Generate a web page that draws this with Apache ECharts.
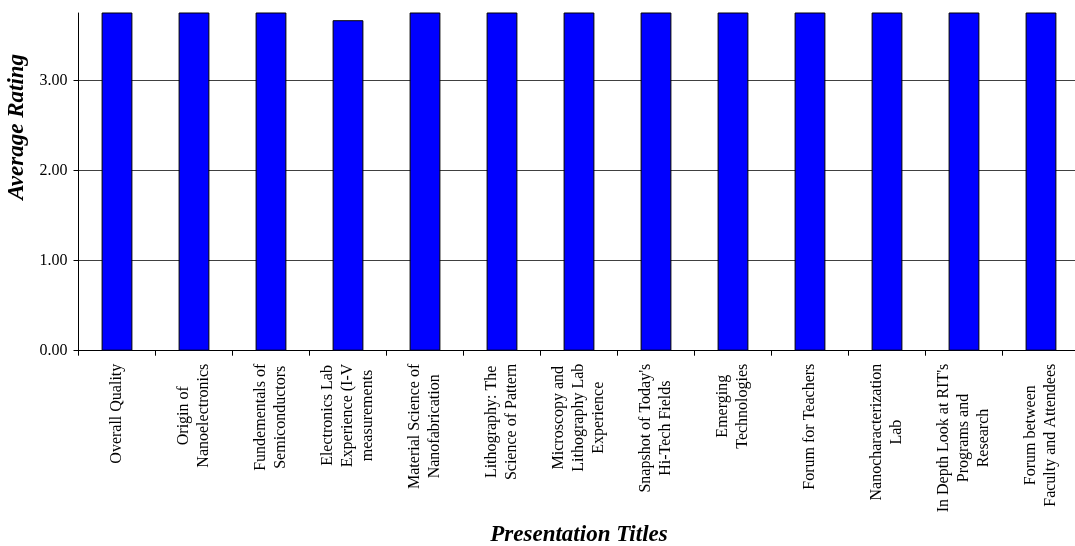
<!DOCTYPE html>
<html>
<head>
<meta charset="utf-8">
<script src="https://cdn.jsdelivr.net/npm/echarts@6/dist/echarts.min.js"></script>
<style>
html,body{margin:0;padding:0;background:#fff;}
#chart{width:1075px;height:546px;}
</style>
</head>
<body>
<div id="chart"></div>
<script>
const categories = [
  "Overall Quality",
  "Origin of\nNanoelectronics",
  "Fundementals of\nSemiconductors",
  "Electronics Lab\nExperience (I-V\nmeasurements",
  "Material Science of\nNanofabrication",
  "Lithography: The\nScience of Pattern",
  "Microscopy and\nLithography Lab\nExperience",
  "Snapshot of Today's\nHi-Tech Fields",
  "Emerging\nTechnologies",
  "Forum for Teachers",
  "Nanocharacterization\nLab",
  "In Depth Look at RIT's\nPrograms and\nResearch",
  "Forum between\nFaculty and Attendees"
];
const averageRating = [4.4, 4.3, 4.2, 3.67, 4.3, 4.1, 4.4, 4.0, 4.1, 4.3, 4.2, 4.0, 4.2];
const yTickValues = [0, 1, 2, 3];

const serif = "'Liberation Serif', 'DejaVu Serif', serif";
const chart = echarts.init(document.getElementById('chart'), null, {renderer: 'canvas'});
chart.setOption({
  backgroundColor: '#ffffff',
  animation: false,
  grid: {left: 78.5, right: -4.5, top: 13, bottom: 195.3, containLabel: false, outerBoundsMode: 'none'},
  xAxis: {
    type: 'category',
    data: categories,
    boundaryGap: true,
    name: 'Presentation Titles',
    nameLocation: 'middle',
    nameGap: 173,
    nameTextStyle: {fontFamily: serif, fontSize: 23, fontWeight: 'bold', fontStyle: 'italic', color: '#000'},
    axisLine: {lineStyle: {color: '#000', width: 1}},
    axisTick: {show: true, alignWithLabel: false, length: 5, lineStyle: {color: '#000'}},
    axisLabel: {
      interval: 0,
      rotate: 90,
      margin: 13,
      color: '#000',
      fontFamily: serif,
      fontSize: 16,
      lineHeight: 20,
      formatter: function (v) {
        return v.split('\n').map(function (s) { return '{c|' + s + '}'; }).join('\n');
      },
      rich: {c: {align: 'center', fontFamily: serif, fontSize: 16, lineHeight: 20, color: '#000'}}
    },
    splitLine: {show: false}
  },
  yAxis: {
    type: 'value',
    min: 0,
    max: 3.75,
    interval: 1,
    name: 'Average Rating',
    nameLocation: 'middle',
    nameGap: 44,
    nameTextStyle: {fontFamily: serif, fontSize: 23, fontWeight: 'bold', fontStyle: 'italic', color: '#000', padding: [0, 0, 0, 110]},
    axisLine: {show: true, lineStyle: {color: '#000', width: 1}},
    axisTick: {show: true, length: 5, lineStyle: {color: '#000'}, customValues: yTickValues},
    axisLabel: {
      color: '#000', fontFamily: serif, fontSize: 16, margin: 11,
      customValues: yTickValues,
      formatter: function (v) { return v.toFixed(2); }
    },
    splitLine: {show: true, lineStyle: {color: '#404040', width: 1}}
  },
  series: [{
    type: 'bar',
    data: averageRating,
    barCategoryGap: '60%',
    itemStyle: {color: '#0000ff', borderColor: '#000', borderWidth: 1},
    clip: true
  }]
});
</script>
</body>
</html>
